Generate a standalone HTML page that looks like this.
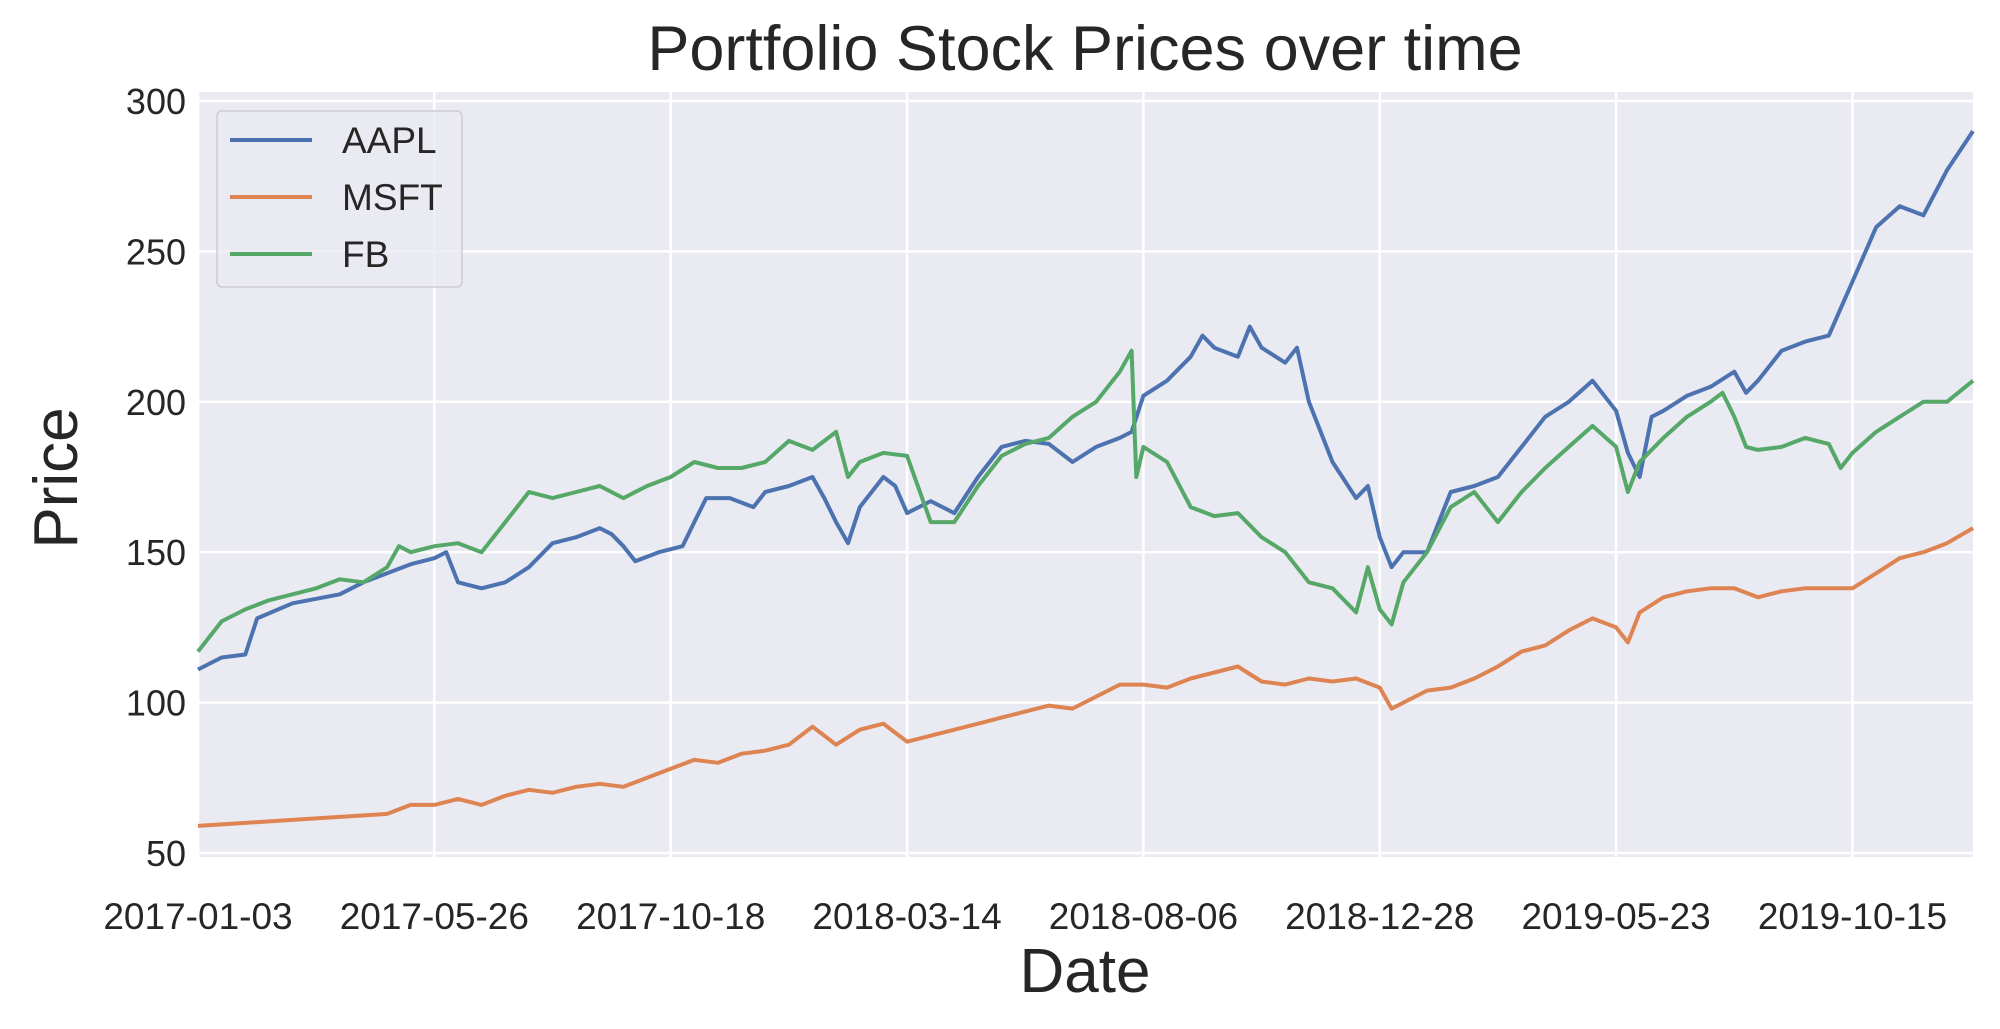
<!DOCTYPE html>
<html><head><meta charset="utf-8"><style>
html,body{margin:0;padding:0;background:#fff}
svg{display:block;font-family:"Liberation Sans",Arial,sans-serif}
</style></head><body>
<svg id="chart" width="2000" height="1029" viewBox="0 0 2000 1029">
<rect x="198" y="92" width="1775" height="765" fill="#eaeaf2"/>
<g id="grid"></g><g id="series"></g><g id="ticks"></g>
<text x="1085" y="70" font-size="63" text-anchor="middle" fill="#262626">Portfolio Stock Prices over time</text>
<text x="1085" y="992" font-size="62" text-anchor="middle" fill="#262626">Date</text>
<text x="0" y="0" font-size="62" text-anchor="middle" fill="#262626" transform="translate(77,478) rotate(-90)">Price</text>
<g id="legend">
<rect x="217" y="111" width="245" height="176" rx="5" fill="#eaeaf2" fill-opacity="0.8" stroke="#cccccc" stroke-width="1.5"/>
</g>
</svg>
<script>
const tickIdx=[0,100,200,300,400,500,600,700];
const tickLabels=["2017-01-03","2017-05-26","2017-10-18","2018-03-14","2018-08-06","2018-12-28","2019-05-23","2019-10-15"];
const yTicks=[50,100,150,200,250,300];
const seriesNames=["AAPL","MSFT","FB"];
const aaplIdx=[0,10,20,25,40,60,70,80,90,100,105,110,120,130,140,150,160,170,175,180,185,195,205,210,215,225,235,240,250,260,265,270,275,280,290,295,300,310,320,330,340,350,360,370,380,390,395,400,410,420,425,430,440,445,450,460,465,470,480,490,495,500,505,510,520,525,530,540,550,560,570,580,590,600,605,610,615,620,630,640,650,655,660,670,680,690,700,710,720,730,740,751];
const aaplVals=[111,115,116,128,133,136,140,143,146,148,150,140,138,140,145,153,155,158,156,152,147,150,152,160,168,168,165,170,172,175,168,160,153,165,175,172,163,167,163,175,185,187,186,180,185,188,190,202,207,215,222,218,215,225,218,213,218,200,180,168,172,155,145,150,150,160,170,172,175,185,195,200,207,197,183,175,195,197,202,205,210,203,207,217,220,222,240,258,265,262,277,290];
const msftIdx=[0,20,40,60,80,90,100,110,120,130,140,150,160,170,180,190,200,210,220,230,240,250,260,270,280,290,300,310,320,330,340,350,360,370,380,390,400,410,420,430,440,450,460,470,480,490,500,505,510,520,530,540,550,560,570,580,590,600,605,610,620,630,640,650,660,670,680,690,700,710,720,730,740,751];
const msftVals=[59,60,61,62,63,66,66,68,66,69,71,70,72,73,72,75,78,81,80,83,84,86,92,86,91,93,87,89,91,93,95,97,99,98,102,106,106,105,108,110,112,107,106,108,107,108,105,98,100,104,105,108,112,117,119,124,128,125,120,130,135,137,138,138,135,137,138,138,138,143,148,150,153,158];
const fbIdx=[0,10,20,30,40,50,60,70,80,85,90,100,110,120,130,140,150,160,170,180,190,200,210,220,230,240,250,260,270,275,280,290,300,310,320,330,340,350,360,370,380,390,395,397,400,410,420,430,440,450,460,470,480,490,495,500,505,510,520,530,540,550,560,570,580,590,600,605,610,620,630,640,645,650,655,660,670,680,690,695,700,710,720,730,740,751];
const fbVals=[117,127,131,134,136,138,141,140,145,152,150,152,153,150,160,170,168,170,172,168,172,175,180,178,178,180,187,184,190,175,180,183,182,160,160,172,182,186,188,195,200,210,217,175,185,180,165,162,163,155,150,140,138,130,145,131,126,140,150,165,170,160,170,178,185,192,185,170,180,188,195,200,203,195,185,184,185,188,186,178,183,190,195,200,200,207];
const colors=["#4c72b0","#dd8452","#55a868"];
const NS="http://www.w3.org/2000/svg";
const L=198,R=1973,T=92,B=857;
const x=i=>L+i*(R-L)/751;
const y=v=>853-(v-50)*(752/250);
function mk(t,a,p){const e=document.createElementNS(NS,t);for(const k in a)e.setAttribute(k,a[k]);p.appendChild(e);return e;}
const grid=document.getElementById('grid'),ticks=document.getElementById('ticks'),ser=document.getElementById('series'),leg=document.getElementById('legend');
tickIdx.forEach((t,k)=>{
 const l=mk('line',{x1:x(t),x2:x(t),y1:T,y2:B,stroke:'#fff','stroke-width':2.5},grid);
 
 
 const tx=mk('text',{x:x(t),y:929,'font-size':37,'text-anchor':'middle',fill:'#262626'},ticks);
 tx.textContent=tickLabels[k];
 
 
});
yTicks.forEach(v=>{
 const l=mk('line',{x1:L,x2:R,y1:y(v),y2:y(v),stroke:'#fff','stroke-width':2.5},grid);
 
 
 const tx=mk('text',{x:186,y:y(v)+13,'font-size':36,'text-anchor':'end',fill:'#262626'},ticks);
 tx.textContent=v;
 
 
});
const data=[[aaplIdx,aaplVals],[msftIdx,msftVals],[fbIdx,fbVals]];
data.forEach((d,s)=>{
 const pts=d[0].map((i,k)=>x(i).toFixed(1)+','+y(d[1][k]).toFixed(1)).join(' ');
 const p=mk('polyline',{points:pts,fill:'none',stroke:colors[s],'stroke-width':4,'stroke-linejoin':'round'},ser);
 
 
 const yy=140+s*57;
 const ll=mk('line',{x1:230,x2:312,y1:yy,y2:yy,stroke:colors[s],'stroke-width':4},leg);
 
 
 const lt=mk('text',{x:342,y:yy+13,'font-size':37,fill:'#262626'},leg);
 lt.textContent=seriesNames[s];
 
 
});
</script>
</body></html>
